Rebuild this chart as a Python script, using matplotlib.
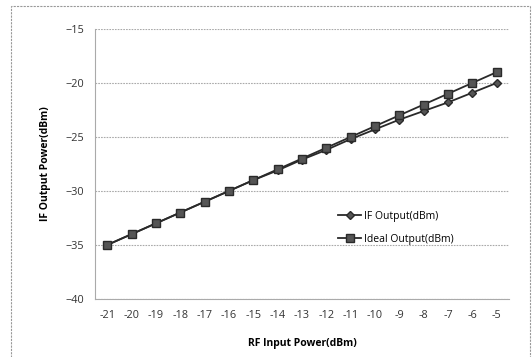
import matplotlib
matplotlib.use("Agg")
import matplotlib.pyplot as plt
from matplotlib.patches import Rectangle

rf_input = [-21, -20, -19, -18, -17, -16, -15, -14, -13, -12, -11, -10, -9, -8, -7, -6, -5]
if_output = [-35, -34, -33, -32, -31, -30, -29, -28.1, -27.1, -26.2, -25.2,
             -24.3, -23.4, -22.6, -21.8, -20.9, -20.0]
ideal_output = [-35, -34, -33, -32, -31, -30, -29, -28, -27, -26, -25,
                -24, -23, -22, -21, -20, -19]
y_ticks = [-40, -35, -30, -25, -20, -15]

plt.rcParams['font.family'] = ['Open Sans', 'DejaVu Sans']

fig = plt.figure(figsize=(5.32, 3.57), dpi=100)
ax = fig.add_axes([0.1786, 0.1625, 0.778, 0.7565])

# outer dashed frame like the spreadsheet chart area
fig.patches.append(Rectangle((0.021, -0.01), 0.975, 0.993, transform=fig.transFigure,
                             fill=False, edgecolor='#999999', linestyle=(0, (2, 1)),
                             linewidth=0.8))

ax.plot(rf_input, if_output, color='#2a2a2a', linewidth=1.3, marker='D',
        markersize=4, markerfacecolor='#555555', markeredgecolor='#2a2a2a',
        label='IF Output(dBm)')
ax.plot(rf_input, ideal_output, color='#2a2a2a', linewidth=1.3, marker='s',
        markersize=5.8, markerfacecolor='#555555', markeredgecolor='#2a2a2a',
        label='Ideal Output(dBm)')

ax.set_xlim(-21.5, -4.5)
ax.set_ylim(-40, -15)
ax.set_xticks(rf_input)
ax.set_xticklabels([str(v) for v in rf_input])
ax.set_yticks(y_ticks)

ax.yaxis.grid(True, color='#aaaaaa', linestyle=(0, (1.5, 1)), linewidth=0.8)
ax.set_axisbelow(True)
for s in ['top', 'right']:
    ax.spines[s].set_visible(False)
for s in ['left', 'bottom']:
    ax.spines[s].set_color('#aaaaaa')
    ax.spines[s].set_linestyle((0, (1.5, 1)))
    ax.spines[s].set_linewidth(0.8)
ax.tick_params(axis='both', length=0, labelsize=7.8, colors='#333333', pad=8)

ax.set_xlabel('RF Input Power(dBm)', fontsize=7.5, fontweight='bold', labelpad=12)
ax.set_ylabel('IF Output Power(dBm)', fontsize=7.5, fontweight='bold', labelpad=10)

ax.legend(loc='upper left', bbox_to_anchor=(0.565, 0.36), frameon=False,
          fontsize=7.5, handlelength=2.2, handletextpad=0.3, labelspacing=1.1)

fig.savefig('out.png', dpi=100)
